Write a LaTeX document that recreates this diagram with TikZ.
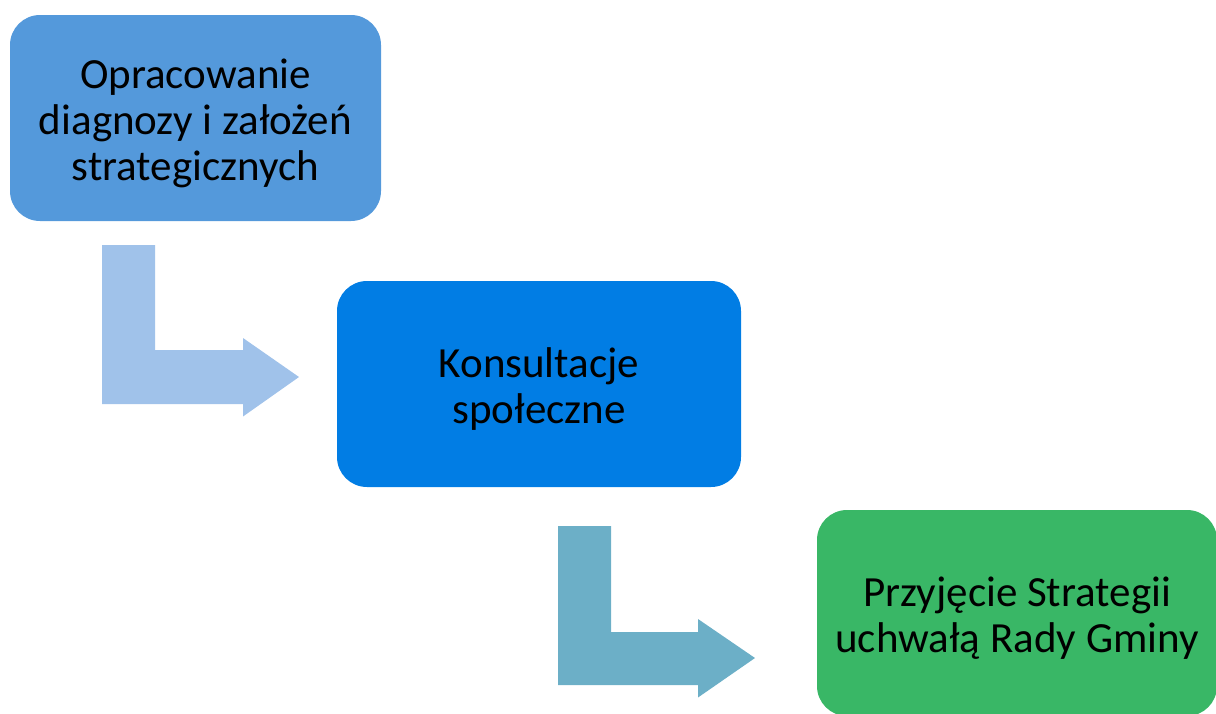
\documentclass[tikz,border=0pt]{standalone}
\usepackage{fontspec}
\setmainfont{Carlito}
\definecolor{boxA}{RGB}{84,153,219}
\definecolor{boxB}{RGB}{1,125,228}
\definecolor{boxC}{RGB}{57,183,102}
\definecolor{arrA}{RGB}{160,194,234}
\definecolor{arrB}{RGB}{108,175,199}
\begin{document}
\begin{tikzpicture}[x=1pt,y=-1pt,
  stepbox/.style={rectangle, rounded corners=30pt, inner sep=0pt, minimum height=206pt},
  steptext/.style={align=center, inner sep=0pt, yshift=-5pt,
    font=\fontsize{43}{46}\selectfont, text=black},
  bentarrow/.style={draw=none}]
\useasboundingbox (0,0) rectangle (1216,713);
\node[stepbox, fill=boxA, minimum width=371pt,
  label={[steptext]center:{Opracowanie\\diagnozy i założeń\\strategicznych}}] (a) at (195.5,118) {};
\node[stepbox, fill=boxB, minimum width=404pt,
  label={[steptext]center:{Konsultacje\\społeczne}}] (b) at (539,384) {};
\node[stepbox, fill=boxC, minimum width=400pt,
  label={[steptext]center:{Przyjęcie Strategii\\uchwałą Rady Gminy}}] (c) at (1017,613) {};
\fill[arrA, bentarrow] (102,245) -- (155,245) -- (155,350) -- (243,350) -- (243,338)
  -- (299,377) -- (243,416.5) -- (243,404) -- (102,404) -- cycle;
\fill[arrB, bentarrow] (558,526) -- (611,526) -- (611,632) -- (698,632) -- (698,619)
  -- (755,658) -- (698,697.5) -- (698,685) -- (558,685) -- cycle;
\end{tikzpicture}
\end{document}
